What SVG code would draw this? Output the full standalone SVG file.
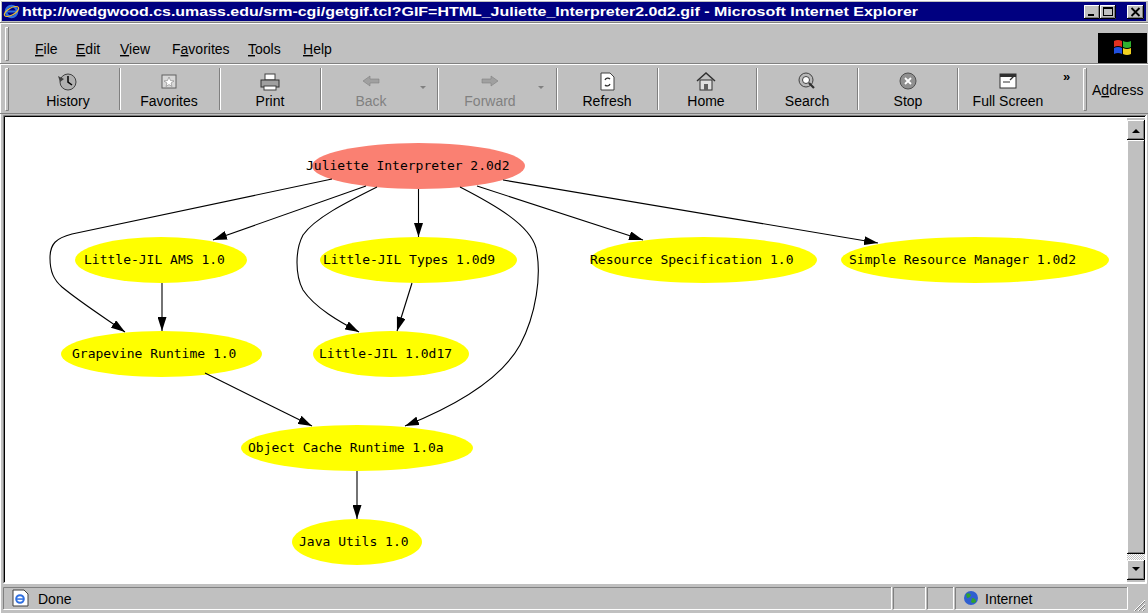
<svg xmlns="http://www.w3.org/2000/svg" width="1148" height="613" viewBox="0 0 1148 613">
<style>
.ui{font-family:"Liberation Sans",Arial,sans-serif;font-size:14px;fill:#000}
.tb{font-family:"Liberation Sans",Arial,sans-serif;font-size:14px;fill:#000;text-anchor:middle}
.dis{fill:#808080}
.ttl{font-family:"Liberation Sans",Arial,sans-serif;font-size:13px;font-weight:bold;fill:#fff}
.yel{fill:#ffff00}
.sal{fill:#fa8072}
.lbl{font-family:"DejaVu Sans Mono","Liberation Mono",monospace;font-size:13px;fill:#000}
.edge{fill:none;stroke:#000;stroke-width:1.1;marker-end:url(#ah)}
.hi{stroke:#fff;fill:none}
.sh{stroke:#808080;fill:none}
.dk{stroke:#000;fill:none}
</style>
<defs>
<marker id="ah" viewBox="0 0 14 9" refX="14" refY="4.5" markerWidth="14" markerHeight="9" markerUnits="userSpaceOnUse" orient="auto">
<path d="M0,0 L14,4.5 L0,9 z" fill="#000"/>
</marker>
<pattern id="dith" width="2" height="2" patternUnits="userSpaceOnUse">
<rect width="2" height="2" fill="#fff"/>
<rect width="1" height="1" fill="#c0c0c0"/>
<rect x="1" y="1" width="1" height="1" fill="#c0c0c0"/>
</pattern>
</defs>

<!-- window frame -->
<g id="window">
<rect width="1148" height="613" fill="#c0c0c0"/>
<path class="hi" d="M0.5,613 V0.5 H1148"/>
<rect x="2" y="2" width="1144" height="19" fill="#000080"/>
<g id="title-icon">
<circle cx="11.5" cy="11.5" r="5.5" fill="none" stroke="#2f6fe0" stroke-width="2.6"/>
<rect x="6" y="10.5" width="11" height="2" fill="#2f6fe0"/>
<ellipse cx="11.5" cy="11.5" rx="8" ry="3.5" fill="none" stroke="#f0c030" stroke-width="1.2" transform="rotate(-30 11.5 11.5)"/>
</g>
<text class="ttl" x="22" y="16" textLength="896" lengthAdjust="spacingAndGlyphs">http://wedgwood.cs.umass.edu/srm-cgi/getgif.tcl?GIF=HTML_Juliette_Interpreter2.0d2.gif - Microsoft Internet Explorer</text>
<g id="btn-min">
<rect x="1084" y="5" width="16" height="14" fill="#c0c0c0"/>
<path class="hi" d="M1084.5,18.5 V5.5 H1099.5"/>
<path class="dk" d="M1084,18.5 H1099.5 V5"/>
<path class="sh" d="M1085,17.5 H1098.5 V6"/>
<rect x="1088" y="14" width="6" height="2" fill="#000"/>
</g>
<g id="btn-max">
<rect x="1100" y="5" width="16" height="14" fill="#c0c0c0"/>
<path class="hi" d="M1100.5,18.5 V5.5 H1115.5"/>
<path class="dk" d="M1100,18.5 H1115.5 V5"/>
<path class="sh" d="M1101,17.5 H1114.5 V6"/>
<rect x="1103.5" y="7.5" width="9" height="8" fill="none" stroke="#000"/>
<rect x="1103" y="7" width="10" height="2" fill="#000"/>
</g>
<g id="btn-close">
<rect x="1127" y="5" width="17" height="14" fill="#c0c0c0"/>
<path class="hi" d="M1127.5,18.5 V5.5 H1143.5"/>
<path class="dk" d="M1127,18.5 H1143.5 V5"/>
<path class="sh" d="M1128,17.5 H1142.5 V6"/>
<path d="M1131.5,8 L1139.5,16 M1139.5,8 L1131.5,16" stroke="#000" stroke-width="1.8"/>
</g>
</g>

<!-- menu bar -->
<g id="menubar">
<path class="sh" d="M0,22.5 H1148"/>
<path class="hi" d="M0,23.5 H1148"/>
<path class="hi" d="M5.5,60 V27.5 H8"/>
<path class="sh" d="M6,60.5 H8.5 V27"/>
<text class="ui" x="35" y="54"><tspan text-decoration="underline">F</tspan>ile</text>
<text class="ui" x="76" y="54"><tspan text-decoration="underline">E</tspan>dit</text>
<text class="ui" x="120" y="54"><tspan text-decoration="underline">V</tspan>iew</text>
<text class="ui" x="172" y="54">F<tspan text-decoration="underline">a</tspan>vorites</text>
<text class="ui" x="248" y="54"><tspan text-decoration="underline">T</tspan>ools</text>
<text class="ui" x="303" y="54"><tspan text-decoration="underline">H</tspan>elp</text>
<g id="winlogo">
<rect x="1098" y="33" width="49" height="30" fill="#000"/>
<path d="M1114,41 q4,-2 8,0 v6 q-4,-2 -8,0 z" fill="#e03020"/>
<path d="M1123,41 q4,2 8,0 v6 q-4,2 -8,0 z" fill="#30b030"/>
<path d="M1114,48 q4,-2 8,0 v6 q-4,-2 -8,0 z" fill="#2050e0"/>
<path d="M1123,48 q4,2 8,0 v6 q-4,2 -8,0 z" fill="#f0d020"/>
</g>
<path class="sh" d="M0,63.5 H1148"/>
<path class="hi" d="M0,64.5 H1148"/>
</g>

<!-- toolbar -->
<g id="toolbar">
<path class="hi" d="M5.5,110 V68.5 H8"/>
<path class="sh" d="M6,110.5 H8.5 V68"/>
<g id="separators">
<path class="sh" d="M119.5,68 V110 M219.5,68 V110 M320.5,68 V110 M437.5,68 V110 M556.5,68 V110 M657.5,68 V110 M756.5,68 V110 M857.5,68 V110 M957.5,68 V110"/>
<path class="hi" d="M120.5,68 V110 M220.5,68 V110 M321.5,68 V110 M438.5,68 V110 M557.5,68 V110 M658.5,68 V110 M757.5,68 V110 M858.5,68 V110 M958.5,68 V110"/>
</g>
<g id="ico-history">
<circle cx="68" cy="82" r="8" fill="#b0b0b0" stroke="#404040"/>
<path d="M68,76 V82 L72,85" stroke="#000" stroke-width="1.5" fill="none"/>
<path d="M58,76 L64,79 L60,82 z" fill="#404040"/>
</g>
<text class="tb" x="68" y="106">History</text>
<g id="ico-fav">
<rect x="162" y="75" width="14" height="13" fill="#d8d8d8" stroke="#606060"/>
<path d="M169,77 L170.5,80.5 L174,81 L171,83 L172,86.5 L169,84.5 L166,86.5 L167,83 L164,81 L167.5,80.5 z" fill="#fff" stroke="#808080" stroke-width="0.6"/>
</g>
<text class="tb" x="169" y="106">Favorites</text>
<g id="ico-print">
<rect x="265" y="74" width="10" height="6" fill="#fff" stroke="#404040"/>
<rect x="261" y="80" width="18" height="7" fill="#a0a0a0" stroke="#303030"/>
<rect x="264" y="86" width="12" height="4" fill="#fff" stroke="#404040"/>
</g>
<text class="tb" x="270" y="106">Print</text>
<g id="ico-back">
<path d="M363,81 L370,76 V79 H379 V83 H370 V86 z" fill="#a0a0a0" stroke="#808080" stroke-width="0.6"/>
</g>
<text class="tb dis" x="371" y="106">Back</text>
<path d="M420,86 h6 l-3,3 z" fill="#808080"/>
<g id="ico-fwd">
<path d="M498,81 L491,76 V79 H482 V83 H491 V86 z" fill="#a0a0a0" stroke="#808080" stroke-width="0.6"/>
</g>
<text class="tb dis" x="490" y="106">Forward</text>
<path d="M538,86 h6 l-3,3 z" fill="#808080"/>
<g id="ico-refresh">
<path d="M601,73 H610 L614,77 V90 H601 z" fill="#fff" stroke="#404040"/>
<path d="M605,80 a3,3 0 0 1 5,-1 M610,84 a3,3 0 0 1 -5,1" stroke="#303030" fill="none" stroke-width="1.3"/>
</g>
<text class="tb" x="607" y="106">Refresh</text>
<g id="ico-home">
<path d="M697,81 L706,73 L715,81" stroke="#303030" fill="none" stroke-width="1.5"/>
<rect x="700" y="80" width="12" height="10" fill="#e0e0e0" stroke="#303030"/>
<rect x="704" y="84" width="4" height="6" fill="#606060"/>
</g>
<text class="tb" x="706" y="106">Home</text>
<g id="ico-search">
<circle cx="806" cy="80" r="7" fill="#b8b8b8" stroke="#404040"/>
<circle cx="806" cy="80" r="3.5" fill="#fff" stroke="#404040"/>
<path d="M809,83 L814,88" stroke="#303030" stroke-width="2.2"/>
</g>
<text class="tb" x="807" y="106">Search</text>
<g id="ico-stop">
<circle cx="908" cy="81" r="8" fill="#909090" stroke="#505050"/>
<path d="M905,78 L911,84 M911,78 L905,84" stroke="#fff" stroke-width="1.8"/>
</g>
<text class="tb" x="908" y="106">Stop</text>
<g id="ico-full">
<rect x="1000" y="74" width="16" height="14" fill="#fff" stroke="#303030"/>
<rect x="1000" y="74" width="16" height="3" fill="#303030"/>
<path d="M1003,82 H1010" stroke="#303030"/>
<path d="M1010,80 L1014,76" stroke="#303030" stroke-width="1.2"/>
</g>
<text class="tb" x="1008" y="106">Full Screen</text>
<text x="1063" y="81" font-family="Liberation Sans,Arial,sans-serif" font-size="13" font-weight="bold">»</text>
<path class="hi" d="M1083.5,110 V68.5 H1086"/>
<path class="sh" d="M1084,110.5 H1086.5 V68"/>
<text class="ui" x="1092" y="95">A<tspan text-decoration="underline">d</tspan>dress</text>
<path class="sh" d="M0,113.5 H1148"/>
</g>

<!-- content area -->
<g id="content">
<rect x="5" y="116" width="1141" height="467" fill="#fff"/>
<path class="sh" d="M3.5,583 V115.5 H1146"/>
<path class="dk" d="M4.5,582 V116.5 H1145"/>
<path class="hi" d="M3.5,583.5 H1146.5 V115"/>
</g>

<!-- scrollbar -->
<g id="scrollbar">
<rect x="1127" y="118" width="18" height="464" fill="#c0c0c0"/>
<g id="sb-up">
<rect x="1127" y="120" width="18" height="20" fill="#c0c0c0"/>
<path class="hi" d="M1127.5,139.5 V120.5 H1144.5"/>
<path class="dk" d="M1127,139.5 H1144.5 V120"/>
<path class="sh" d="M1128,138.5 H1143.5 V121"/>
<path d="M1132,133 h8 l-4,-4 z" fill="#000"/>
</g>
<g id="sb-thumb">
<rect x="1127" y="140" width="18" height="414" fill="#c0c0c0"/>
<path class="hi" d="M1127.5,553.5 V140.5 H1144.5"/>
<path class="dk" d="M1127,553.5 H1144.5 V140"/>
<path class="sh" d="M1128,552.5 H1143.5 V141"/>
</g>
<rect x="1127" y="554" width="18" height="6" fill="url(#dith)"/>
<g id="sb-down">
<rect x="1127" y="560" width="18" height="20" fill="#c0c0c0"/>
<path class="hi" d="M1127.5,579.5 V560.5 H1144.5"/>
<path class="dk" d="M1127,579.5 H1144.5 V560"/>
<path class="sh" d="M1128,578.5 H1143.5 V561"/>
<path d="M1132,567 h8 l-4,4 z" fill="#000"/>
</g>
</g>

<!-- status bar -->
<g id="statusbar">
<path class="sh" d="M3.5,609 V587.5 H891"/>
<path class="hi" d="M3.5,609.5 H891.5 V587"/>
<path class="sh" d="M893.5,609 V587.5 H925"/>
<path class="hi" d="M893.5,609.5 H925.5 V587"/>
<path class="sh" d="M927.5,609 V587.5 H953"/>
<path class="hi" d="M927.5,609.5 H953.5 V587"/>
<path class="sh" d="M955.5,609 V587.5 H1127"/>
<path class="hi" d="M955.5,609.5 H1127.5 V587"/>
<g id="st-ie">
<path d="M13,590 H24 L28,594 V606 H13 z" fill="#fff" stroke="#404040"/>
<circle cx="20" cy="599" r="3.8" fill="none" stroke="#2f6fe0" stroke-width="2"/>
<rect x="16" y="598.3" width="8" height="1.5" fill="#2f6fe0"/>
</g>
<text class="ui" x="38" y="604" font-size="13">Done</text>
<g id="st-globe">
<circle cx="971" cy="598" r="7" fill="#2f5fd0"/>
<path d="M966,594 q3,-2 5,1 q-1,3 -4,3 z M972,598 q4,0 4,4 q-3,2 -5,0 z" fill="#30a030"/>
</g>
<text class="ui" x="985" y="604" font-size="13">Internet</text>
<path class="hi" d="M1134,611 L1145,600 M1138,611 L1145,604 M1142,611 L1145,608"/>
<path class="sh" d="M1135,611 L1145,601 M1139,611 L1145,605 M1143,611 L1145,609"/>
</g>

<!-- graph -->
<g id="nodes">
<g id="n-juliette"><ellipse class="sal" cx="418.5" cy="166" rx="106.5" ry="23"/><text class="lbl" x="306" y="170">Juliette Interpreter 2.0d2</text></g>
<g id="n-ams"><ellipse class="yel" cx="161" cy="260" rx="86" ry="23"/><text class="lbl" x="84" y="264">Little-JIL AMS 1.0</text></g>
<g id="n-types"><ellipse class="yel" cx="418.5" cy="260" rx="98.5" ry="23"/><text class="lbl" x="323" y="264">Little-JIL Types 1.0d9</text></g>
<g id="n-resspec"><ellipse class="yel" cx="703.5" cy="260" rx="113.5" ry="23"/><text class="lbl" x="590" y="264">Resource Specification 1.0</text></g>
<g id="n-srm"><ellipse class="yel" cx="975" cy="260" rx="134" ry="23"/><text class="lbl" x="849" y="264">Simple Resource Manager 1.0d2</text></g>
<g id="n-grapevine"><ellipse class="yel" cx="161.5" cy="354" rx="100.5" ry="23"/><text class="lbl" x="72" y="358">Grapevine Runtime 1.0</text></g>
<g id="n-ljil"><ellipse class="yel" cx="391" cy="354" rx="78" ry="23"/><text class="lbl" x="319" y="358">Little-JIL 1.0d17</text></g>
<g id="n-ocache"><ellipse class="yel" cx="357" cy="448" rx="116" ry="23"/><text class="lbl" x="248" y="452">Object Cache Runtime 1.0a</text></g>
<g id="n-javautils"><ellipse class="yel" cx="357" cy="542" rx="65" ry="23"/><text class="lbl" x="299" y="546">Java Utils 1.0</text></g>
</g>

<g id="edges">
<path class="edge" d="M366,186 L213,240"/>
<path class="edge" d="M332,179 L72,234 C56,238 50,244 50,258 C50,272 54,280 62,287 C80,302 105,318 125,332"/>
<path class="edge" d="M162,283 L162,331"/>
<path class="edge" d="M418.5,189 L418.5,237"/>
<path class="edge" d="M412,283 L397,331"/>
<path class="edge" d="M377,187 C345,203 315,218 303,235 C295,250 295,275 303,290 C315,308 340,322 359,332"/>
<path class="edge" d="M460,187 C495,205 530,225 536,248 C542,275 536,315 520,345 C505,372 470,400 405,426"/>
<path class="edge" d="M477,186 L643,240"/>
<path class="edge" d="M503,180 L878,243"/>
<path class="edge" d="M205,373 L312,426"/>
<path class="edge" d="M357,471 L357,519"/>
</g>
</svg>
